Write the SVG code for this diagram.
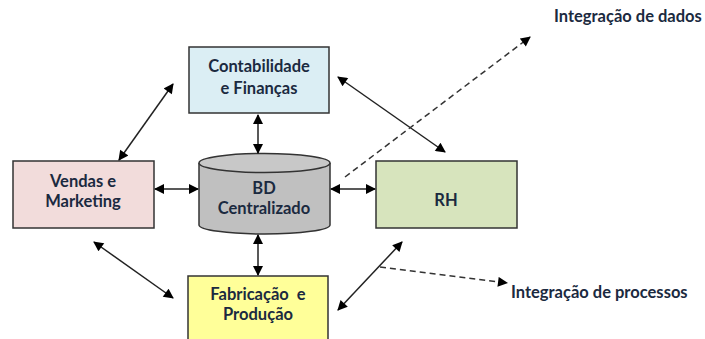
<svg xmlns="http://www.w3.org/2000/svg" width="705" height="339" viewBox="0 0 705 339">
<defs>
<marker id="ah" viewBox="0 0 10 10" refX="9" refY="5" markerWidth="11" markerHeight="10" markerUnits="userSpaceOnUse" orient="auto-start-reverse">
<path d="M0,0 L10,5 L0,10 z" fill="#000"/>
</marker>
<style>
.box{stroke:#333;stroke-width:1.5}
.t{font-family:Lato,"Open Sans",sans-serif;font-weight:bold;font-size:16.5px;fill:#1b2a40;text-anchor:middle;dominant-baseline:middle}
.lbl{font-family:Lato,"Open Sans",sans-serif;font-weight:bold;font-size:16.5px;fill:#1b2a40;dominant-baseline:middle}
.c{stroke:#222;stroke-width:1.5;fill:none;marker-start:url(#ah);marker-end:url(#ah)}
.d{stroke:#333;stroke-width:1.5;fill:none;stroke-dasharray:6 4;marker-end:url(#ah)}
</style>
</defs>
<rect width="705" height="339" fill="#fff"/>
<g id="contabilidade">
<rect class="box" x="189" y="47" width="140" height="66" fill="#dbeef4"/>
<text class="t" x="259" y="68">Contabilidade</text>
<text class="t" x="259" y="90">e Finanças</text>
</g>
<g id="vendas">
<rect class="box" x="13" y="161" width="141" height="67" fill="#f2dcdb"/>
<text class="t" x="83" y="183">Vendas e</text>
<text class="t" x="83" y="203">Marketing</text>
</g>
<g id="rh">
<rect class="box" x="376" y="161" width="141" height="67" fill="#d7e4bd"/>
<text class="t" x="446" y="202">RH</text>
</g>
<g id="fabricacao">
<rect class="box" x="188" y="276" width="140" height="70" fill="#ffff99"/>
<text class="t" x="258" y="296">Fabricação&#160; e</text>
<text class="t" x="258" y="316">Produção</text>
</g>
<g id="bd">
<path class="box" d="M199,163 L199,225 A65.5,9 0 0 0 330,225 L330,163" fill="#c0c0c0"/>
<ellipse class="box" cx="264.5" cy="163" rx="65.5" ry="9.5" fill="#c8c8c8"/>
<text class="t" x="264" y="190">BD</text>
<text class="t" x="264" y="210">Centralizado</text>
</g>
<g id="connectors">
<line class="c" x1="258" y1="115" x2="258" y2="153"/>
<line class="c" x1="258" y1="235" x2="258" y2="275"/>
<line class="c" x1="155" y1="189" x2="198" y2="189"/>
<line class="c" x1="331" y1="189" x2="375" y2="189"/>
<line class="c" x1="173" y1="84" x2="119" y2="160"/>
<line class="c" x1="94" y1="242" x2="173" y2="298"/>
<line class="c" x1="338" y1="77" x2="445" y2="152"/>
<line class="c" x1="402" y1="242" x2="338" y2="310"/>
<line class="d" x1="345" y1="177" x2="530" y2="37"/>
<line class="d" x1="380" y1="267" x2="507" y2="283"/>
</g>
<text class="lbl" x="554" y="18">Integração de dados</text>
<text class="lbl" x="511" y="294">Integração de processos</text>
</svg>
